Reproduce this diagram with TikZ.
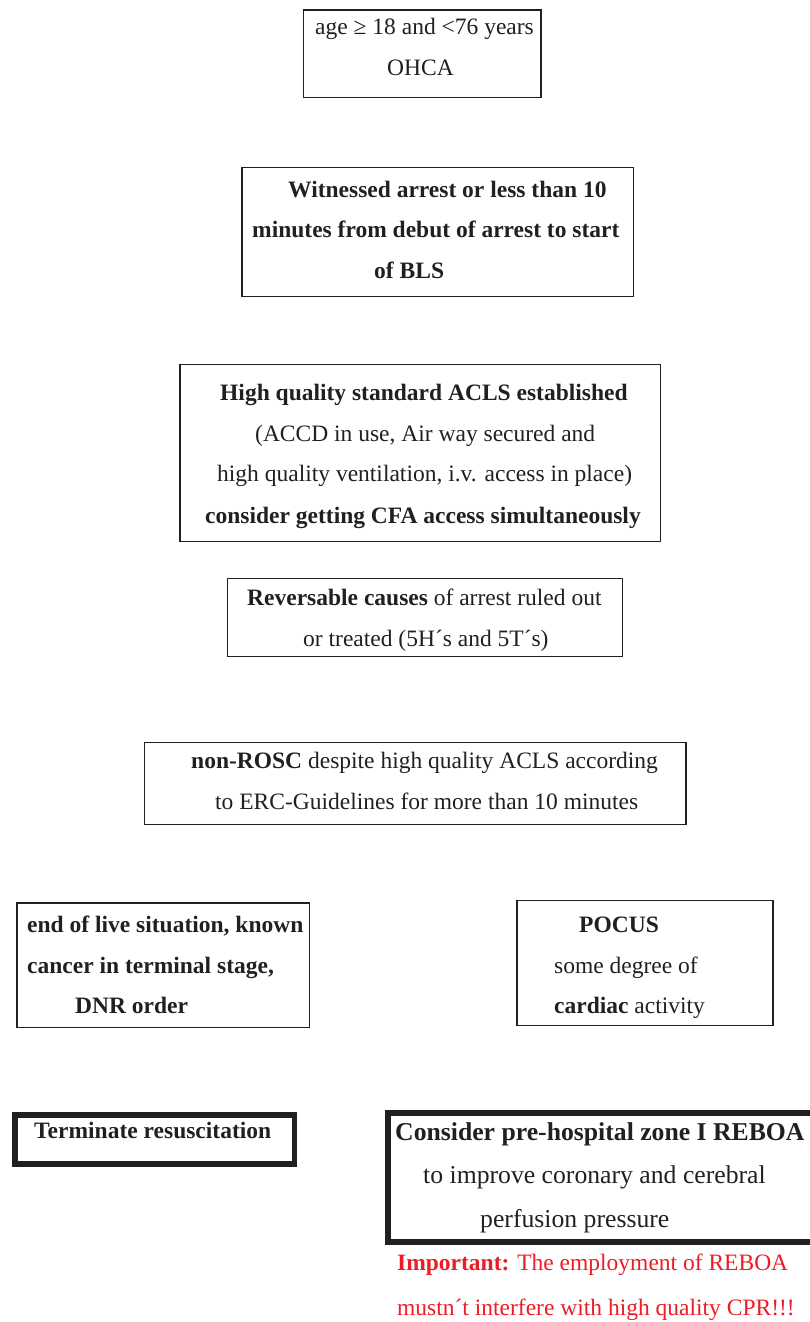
\documentclass[tikz,border=0pt]{standalone}
\usepackage{fontspec}
\setmainfont{Liberation Serif}
\definecolor{ink}{RGB}{35,31,32}
\definecolor{warnred}{RGB}{237,28,36}
\tikzset{
  x=1pt, y=-1pt,
  box/.style={draw=ink, line width=1.8pt, anchor=north west, inner sep=0pt},
  thickbox/.style={draw=ink, line width=5.5pt, anchor=north west, inner sep=0pt},
  txt/.style={anchor=base west, inner sep=0pt, text=ink, font=\fontsize{23.5pt}{28pt}\selectfont},
  bigtxt/.style={txt, font=\fontsize{25.7pt}{30pt}\selectfont},
  redtxt/.style={txt, text=warnred}
}
\begin{document}
\begin{tikzpicture}
\useasboundingbox (0,0) rectangle (810,1322);
% boxes
\node[box, minimum width=237.5pt, minimum height=87pt] (b1) at (302.5,9.5) {};
\node[box, minimum width=391.5pt, minimum height=129pt] (b2) at (241,166.5) {};
\node[box, minimum width=480.5pt, minimum height=177pt] (b3) at (179,363.5) {};
\node[box, minimum width=395pt, minimum height=78pt] (b4) at (226.5,577.5) {};
\node[box, minimum width=541.5pt, minimum height=82pt] (b5) at (143.5,741.5) {};
\node[box, minimum width=292.5pt, minimum height=124.5pt] (b6) at (16,902) {};
\node[box, minimum width=256pt, minimum height=125pt] (b7) at (516,899.5) {};
\node[thickbox, minimum width=279.5pt, minimum height=49pt] (b8) at (12,1112) {};
\node[thickbox, minimum width=428pt, minimum height=129pt] (b9) at (385,1110) {};
% box 1
\node[txt] (t1a) at (315,35) {age ≥ 18 and <76 years};
\node[txt] (t1b) at (387,75) {OHCA};
% box 2
\node[txt] (t2a) at (288,197) {\textbf{Witnessed arrest or less than 10}};
\node[txt] (t2b) at (252,237) {\textbf{minutes from debut of arrest to start}};
\node[txt] (t2c) at (374,278) {\textbf{of BLS}};
% box 3
\node[txt] (t3a) at (220,400.7) {\textbf{High quality standard ACLS established}};
\node[txt] (t3b) at (255,441.7) {(ACCD in use, Air way secured and};
\node[txt] (t3c) at (217,481.7) {high quality ventilation, i.v. access in place)};
\node[txt] (t3d) at (205,523) {\textbf{consider getting CFA access simultaneously}};
% box 4
\node[txt] (t4a) at (247,605) {\textbf{Reversable causes} of arrest ruled out};
\node[txt] (t4b) at (303,646) {or treated (5H´s and 5T´s)};
% box 5
\node[txt] (t5a) at (191,768) {\textbf{non-ROSC} despite high quality ACLS according};
\node[txt] (t5b) at (215,809) {to ERC-Guidelines for more than 10 minutes};
% box 6
\node[txt] (t6a) at (27,932) {\textbf{end of live situation, known}};
\node[txt] (t6b) at (27,973) {\textbf{cancer in terminal stage,}};
\node[txt] (t6c) at (75,1013) {\textbf{DNR order}};
% box 7
\node[txt] (t7a) at (579,932) {\textbf{POCUS}};
\node[txt] (t7b) at (554,973) {some degree of};
\node[txt] (t7c) at (554,1013) {\textbf{cardiac} activity};
% box 8
\node[txt] (t8a) at (34,1138) {\textbf{Terminate resuscitation}};
% box 9
\node[bigtxt] (t9a) at (395,1140) {\textbf{Consider pre-hospital zone I REBOA}};
\node[bigtxt] (t9b) at (423,1183) {to improve coronary and cerebral};
\node[bigtxt] (t9c) at (480,1227) {perfusion pressure};
% red note
\node[redtxt] (r1) at (397,1270) {\textbf{Important:} The employment of REBOA};
\node[redtxt] (r2) at (397,1315) {mustn´t interfere with high quality CPR!!!};
\end{tikzpicture}
\end{document}
